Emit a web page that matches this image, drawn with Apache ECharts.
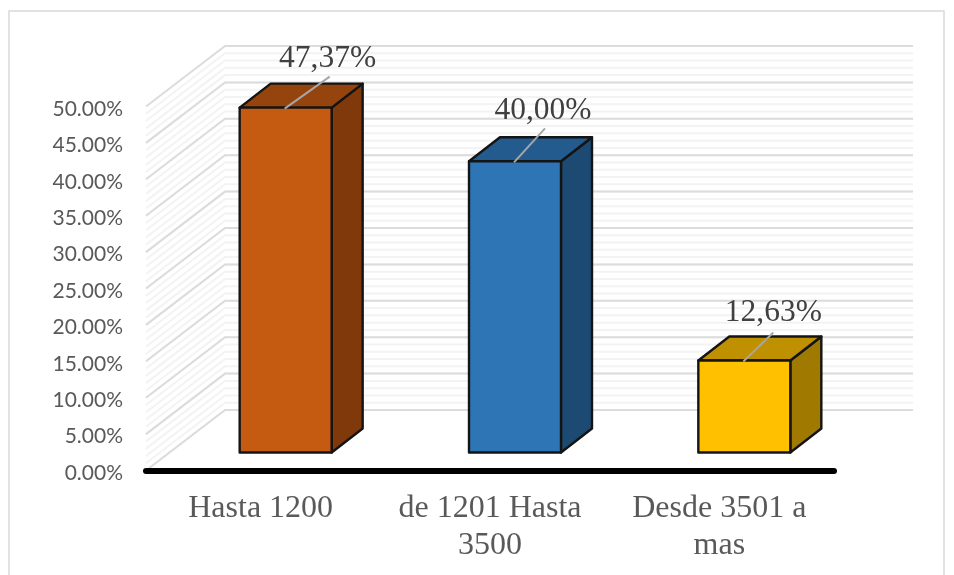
<!DOCTYPE html>
<html>
<head>
<meta charset="utf-8">
<style>html,body{margin:0;padding:0;background:#fff}#c{width:954px;height:575px}</style>
<script src="https://cdn.jsdelivr.net/npm/echarts@6/dist/echarts.min.js"></script>
</head>
<body>
<div id="c"></div>
<script>
var categories = ['Hasta 1200', 'de 1201 Hasta\n3500', 'Desde 3501 a\nmas'];
var values = [47.37, 40.00, 12.63];
var valueLabels = ['47,37%', '40,00%', '12,63%'];
var frontColors = ['#C55A11', '#2E75B6', '#FFC000'];
var topColors = ['#94440C', '#235B8E', '#BF9000'];
var sideColors = ['#7F390B', '#1C4A73', '#A07A00'];
var labelOffsets = [[42, -49], [28, -51], [29, -48]];
var leaderEnds = [[44, -31], [30, -33], [29, -28]];

var WALL_DX = 79, WALL_DY = -60.5;
var FRONT_DX = 25, FRONT_DY = -18;
var BAR_W = 92, BAR_DX = 31, BAR_DY = -24;

function renderWall(params, api) {
  var cs = params.coordSys, kids = [];
  var xL = cs.x, xR = cs.x + cs.width;
  for (var v = 49; v >= 0; v--) addLines(v, false);
  for (v = 50; v >= 0; v -= 5) addLines(v, true);
  function addLines(val, major) {
    var y = api.coord([0, val])[1];
    var st = { stroke: major ? '#DCDCDC' : '#F3F3F3', lineWidth: 2, fill: 'none' };
    kids.push({ type: 'polyline', shape: { points: [[xL, y], [xL + WALL_DX, y + WALL_DY], [xR + WALL_DX, y + WALL_DY]] }, style: st });
  }
  return { type: 'group', children: kids };
}

function renderBar(params, api) {
  var i = api.value(0), val = api.value(1);
  var t = api.coord([i, val]), b = api.coord([i, 0]);
  var x0 = t[0] - BAR_W / 2 + FRONT_DX, x1 = x0 + BAR_W;
  var yT = t[1] + FRONT_DY, yB = b[1] + FRONT_DY;
  var stroke = '#141414', lw = 2.4;
  var cx = (x0 + x1) / 2;
  function poly(pts, fill) {
    return { type: 'polygon', shape: { points: pts }, style: { fill: fill, stroke: stroke, lineWidth: lw, lineJoin: 'round' } };
  }
  var lo = labelOffsets[i], le = leaderEnds[i];
  return { type: 'group', children: [
    poly([[x1, yT], [x1 + BAR_DX, yT + BAR_DY], [x1 + BAR_DX, yB + BAR_DY], [x1, yB]], sideColors[i]),
    poly([[x0, yT], [x0 + BAR_DX, yT + BAR_DY], [x1 + BAR_DX, yT + BAR_DY], [x1, yT]], topColors[i]),
    poly([[x0, yT], [x1, yT], [x1, yB], [x0, yB]], frontColors[i]),
    { type: 'line', shape: { x1: cx - 1, y1: yT + 1, x2: cx + le[0], y2: yT + le[1] }, style: { stroke: '#A6A6A6', lineWidth: 2 } },
    { type: 'text', style: { text: valueLabels[i], x: cx + lo[0], y: yT + lo[1], align: 'center', verticalAlign: 'middle',
      font: '31.5px "Liberation Serif"', fill: '#404040' } }
  ] };
}

var chart = echarts.init(document.getElementById('c'), null, { renderer: 'canvas' });
chart.setOption({
  animation: false,
  backgroundColor: '#fff',
  graphic: [{ type: 'rect', z: -1, shape: { x: 9, y: 11, width: 935, height: 570 }, style: { fill: 'none', stroke: '#D9D9D9', lineWidth: 1.5 } }],
  grid: { left: 146, right: 120, top: 106.5, bottom: 104.5, containLabel: false },
  xAxis: {
    type: 'category', data: categories,
    axisTick: { show: false },
    axisLine: { show: true, lineStyle: { color: '#000', width: 6, cap: 'round' } },
    axisLabel: { color: '#595959', fontFamily: 'Liberation Serif', fontSize: 32, lineHeight: 37, margin: 20, interval: 0 },
    z: 10
  },
  yAxis: {
    type: 'value', min: 0, max: 50, interval: 5,
    axisLine: { show: false }, axisTick: { show: false }, splitLine: { show: false },
    axisLabel: { color: '#595959', fontFamily: 'Lato', fontSize: 21, margin: 23, verticalAlign: 'top', lineHeight: 5, formatter: function (v) { return v.toFixed(2) + '%'; } }
  },
  series: [
    { type: 'custom', z: 1, silent: true, renderItem: renderWall, data: [[0, 0]], encode: { x: 0, y: 1 }, clip: false },
    { type: 'custom', z: 2, renderItem: renderBar, clip: false, encode: { x: 0, y: 1 },
      data: values.map(function (v, i) { return [i, v]; }) }
  ]
});
</script>
</body>
</html>
